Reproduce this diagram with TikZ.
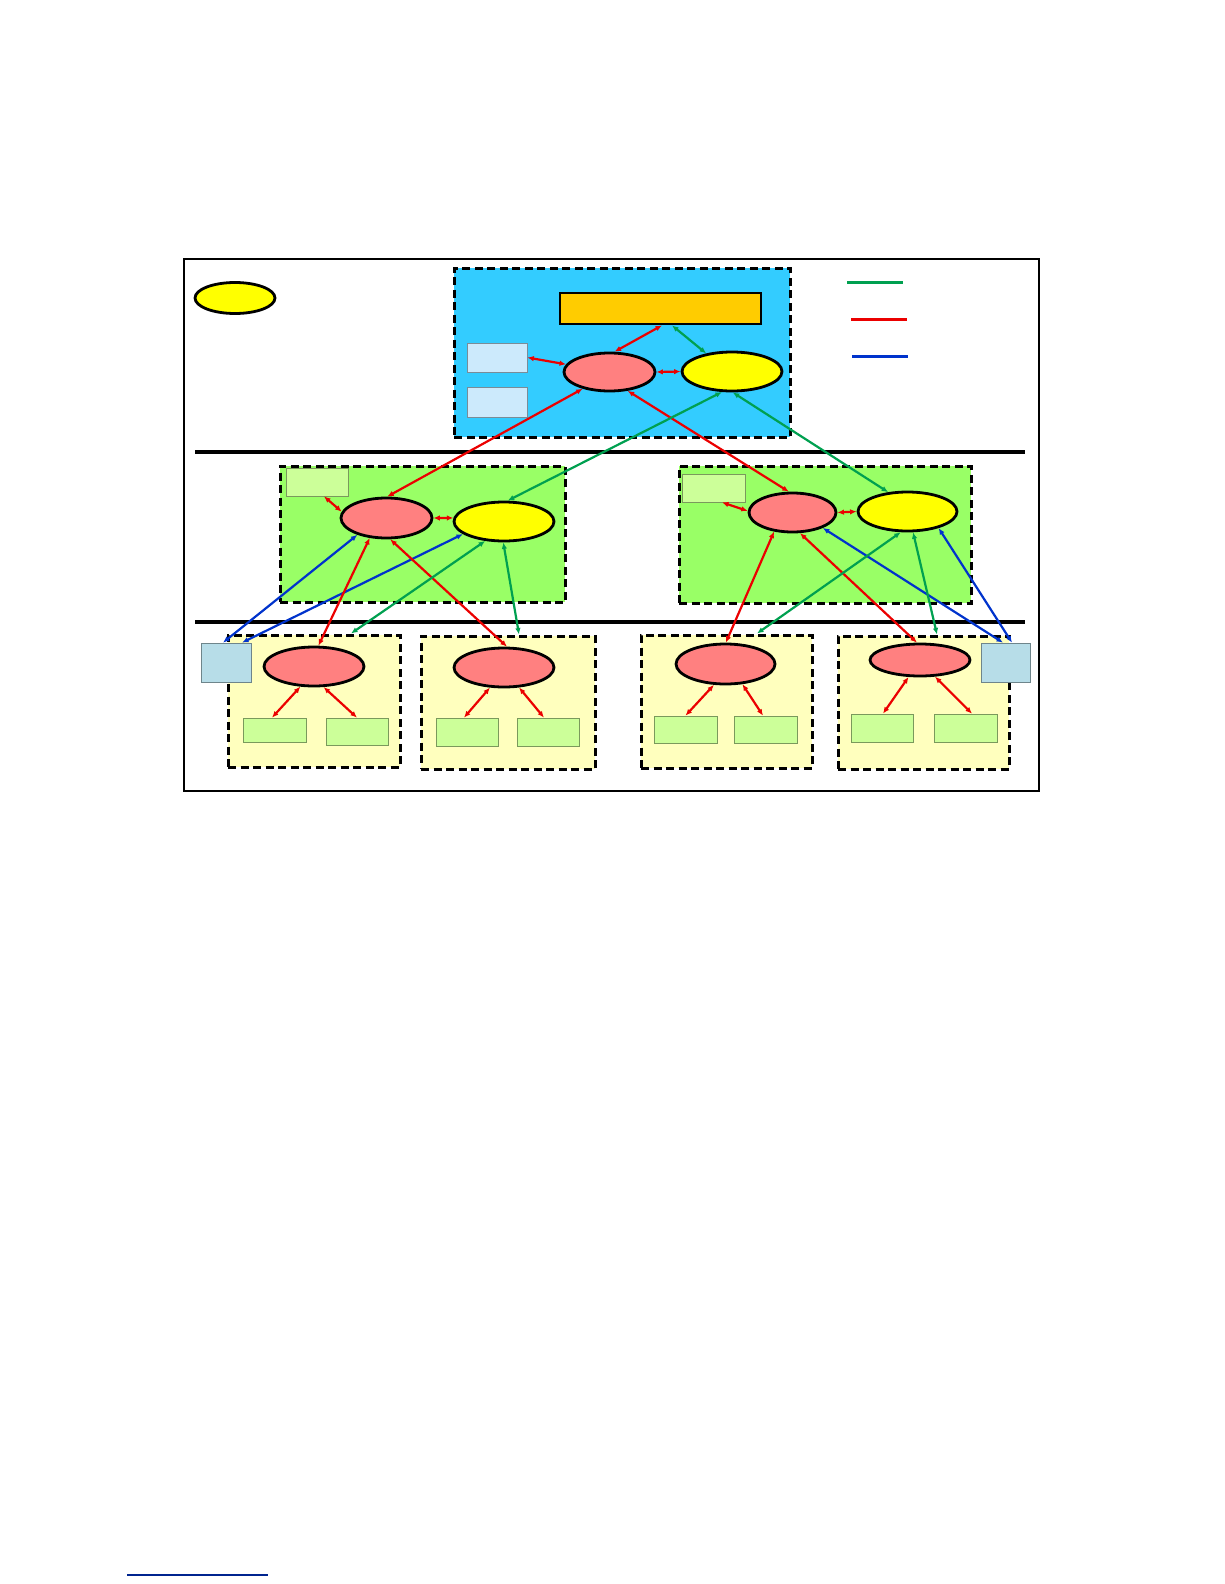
\documentclass[tikz,border=0pt]{standalone}
\usepackage{tikz}
\usetikzlibrary{arrows.meta}
\usetikzlibrary{shapes.geometric}

\definecolor{cloudblue}{RGB}{51,204,255}
\definecolor{dborange}{RGB}{255,204,0}
\definecolor{mgrpink}{RGB}{255,128,128}
\definecolor{ctlyellow}{RGB}{255,255,0}
\definecolor{zonegreen}{RGB}{153,255,102}
\definecolor{resgreen}{RGB}{204,255,153}
\definecolor{storeblue}{RGB}{204,234,252}
\definecolor{edgeblue}{RGB}{183,221,232}
\definecolor{siteyellow}{RGB}{255,255,190}
\definecolor{linkred}{RGB}{235,0,0}
\definecolor{linkgreen}{RGB}{0,160,80}
\definecolor{linkblue}{RGB}{0,51,204}

\tikzstyle{layout}=[x=1pt, y=-1pt, >={Latex[length=6.5pt, width=5.5pt]}]
\tikzstyle{zone}=[rectangle, inner sep=0pt, draw, line width=3pt, dash pattern=on 8pt off 4.5pt]
\tikzstyle{site}=[zone, fill=siteyellow]
\tikzstyle{mgr}=[ellipse, inner sep=0pt, draw, line width=2.8pt, fill=mgrpink]
\tikzstyle{ctl}=[ellipse, inner sep=0pt, draw, line width=2.8pt, fill=ctlyellow]
\tikzstyle{db}=[rectangle, inner sep=0pt, draw, line width=2.8pt, fill=dborange]
\tikzstyle{res}=[rectangle, inner sep=0pt, draw=resgreen!60!black, line width=0.7pt, fill=resgreen]
\tikzstyle{store}=[rectangle, inner sep=0pt, draw=storeblue!60!black, line width=0.7pt, fill=storeblue]
\tikzstyle{edgebox}=[rectangle, inner sep=0pt, draw=edgeblue!60!black, line width=0.7pt, fill=edgeblue]
\tikzstyle{rlink}=[<->, line width=2.2pt, draw=linkred]
\tikzstyle{glink}=[<->, line width=2.2pt, draw=linkgreen]
\tikzstyle{blink}=[<->, line width=2.2pt, draw=linkblue]
\tikzstyle{key}=[line width=3pt]
\tikzstyle{sep}=[line width=3.5pt]
\newcommand{\sepXa}{195}
\newcommand{\sepXb}{1025}

\begin{document}
\begin{tikzpicture}[layout]
	\useasboundingbox (0,0) rectangle (1224,1584);
	\draw[line width=1.2pt] (184,259) rectangle (1039,791);
	
	%legend
	\draw (235,298) node[ctl, minimum width=80pt, minimum height=31pt] (keyctl) {};
	\draw[key, linkgreen] (847,282) -- (903,282);
	\draw[key, linkred] (851,319) -- (907,319);
	\draw[key, linkblue] (852,356) -- (908,356);
	
	\draw[sep] (\sepXa,452) -- (\sepXb,452);
	\draw[sep] (\sepXa,622) -- (\sepXb,622);
	
	%top level
	\draw (622,352.5) node[zone, fill=cloudblue, minimum width=336pt, minimum height=169pt] (cloud) {};
	\draw (660.5,308.5) node[db, minimum width=201pt, minimum height=31pt] (db) {};
	\draw (497,357.5) node[store, minimum width=60pt, minimum height=29pt] (stA) {};
	\draw (497,402) node[store, minimum width=60pt, minimum height=30pt] (stB) {};
	\draw (609.5,372) node[mgr, minimum width=91pt, minimum height=38pt] (mT) {};
	\draw (732,371.5) node[ctl, minimum width=100pt, minimum height=39pt] (cT) {};
	
	%middle level
	\draw (422.5,534) node[zone, fill=zonegreen, minimum width=285pt, minimum height=136pt] (zL) {};
	\draw (317,482) node[res, minimum width=62pt, minimum height=28pt] (rL) {};
	\draw (386.5,518) node[mgr, minimum width=91pt, minimum height=40pt] (mL) {};
	\draw (504,521.5) node[ctl, minimum width=100pt, minimum height=39pt] (cL) {};
	
	\draw (825,534.5) node[zone, fill=zonegreen, minimum width=292pt, minimum height=137pt] (zR) {};
	\draw (713.5,488) node[res, minimum width=63pt, minimum height=28pt] (rR) {};
	\draw (792.5,512.5) node[mgr, minimum width=87pt, minimum height=39pt] (mR) {};
	\draw (907.5,511.5) node[ctl, minimum width=99pt, minimum height=39pt] (cR) {};
	
	%bottom level
	\draw (314,701) node[site, minimum width=172pt, minimum height=132pt] (s1) {};
	\draw (314,666.5) node[mgr, minimum width=100pt, minimum height=39pt] (mB1) {};
	\draw (274.5,730) node[res, minimum width=63pt, minimum height=24pt] (g1a) {};
	\draw (357,731.5) node[res, minimum width=62pt, minimum height=27pt] (g1b) {};
	
	\draw (508,702.5) node[site, minimum width=174pt, minimum height=133pt] (s2) {};
	\draw (504,667.5) node[mgr, minimum width=100pt, minimum height=39pt] (mB2) {};
	\draw (467,732) node[res, minimum width=62pt, minimum height=28pt] (g2a) {};
	\draw (548,732) node[res, minimum width=62pt, minimum height=28pt] (g2b) {};
	
	\draw (726.5,701.5) node[site, minimum width=171pt, minimum height=133pt] (s3) {};
	\draw (725.5,664) node[mgr, minimum width=99pt, minimum height=40pt] (mB3) {};
	\draw (685.5,729.5) node[res, minimum width=63pt, minimum height=27pt] (g3a) {};
	\draw (765.5,729.5) node[res, minimum width=63pt, minimum height=27pt] (g3b) {};
	
	\draw (923.5,702.5) node[site, minimum width=171pt, minimum height=133pt] (s4) {};
	\draw (920,660) node[mgr, minimum width=100pt, minimum height=32pt] (mB4) {};
	\draw (882,728) node[res, minimum width=62pt, minimum height=28pt] (g4a) {};
	\draw (965.5,728) node[res, minimum width=63pt, minimum height=28pt] (g4b) {};
	
	\draw (226,662.5) node[edgebox, minimum width=50pt, minimum height=39pt] (lbL) {};
	\draw (1005.5,662.5) node[edgebox, minimum width=49pt, minimum height=39pt] (lbR) {};
	
	%links inside the top level
	\draw[rlink] ([xshift=1.5pt]db.south) -- (mT.76);
	\draw[glink] ([xshift=11.5pt]db.south) -- (cT.145);
	\draw[rlink] (mT.east) -- (cT.west);
	\draw[rlink] (stA.east) -- (mT.170);
	
	%top to middle
	\draw[rlink] (mT.212) -- (mL.88);
	\draw[rlink] (mT.314) -- (mR.100);
	\draw[glink] (cT.244) -- (cL.80);
	\draw[glink] (cT.272) -- (cR.135);
	
	%middle left
	\draw[rlink] ([xshift=7pt]rL.south) -- (mL.172);
	\draw[rlink] (mL.east) -- (cL.176);
	\draw[blink] (mL.210) -- ([xshift=-3pt]lbL.north);
	\draw[blink] (cL.197) -- ([xshift=16pt]lbL.north);
	\draw[rlink] (mL.230) -- (mB1.78);
	\draw[rlink] (mL.280) -- (mB2.82);
	\draw[glink] (cL.226) -- ([xshift=37pt]s1.north);
	\draw[glink] (cL.268) -- ([xshift=11pt]s2.north);
	
	%middle right
	\draw[rlink] ([xshift=8.5pt]rR.south) -- (mR.178);
	\draw[rlink] (mR.east) -- (cR.west);
	\draw[rlink] (mR.226) -- (mB3.89);
	\draw[rlink] (mR.290) -- (mB4.100);
	\draw[blink] (mR.333) -- ([xshift=-2.5pt]lbR.north);
	\draw[glink] (cR.252) -- ([xshift=30.5pt]s3.north);
	\draw[glink] (cR.285) -- ([xshift=13.5pt]s4.north);
	\draw[blink] (cR.332) -- ([xshift=6.5pt]lbR.north);
	
	%bottom level
	\draw[rlink] (mB1.236) -- ([xshift=-2.5pt]g1a.north);
	\draw[rlink] (mB1.295) -- (g1b.north);
	\draw[rlink] (mB2.235) -- ([xshift=-3pt]g2a.north);
	\draw[rlink] (mB2.307) -- ([xshift=-4pt]g2b.north);
	\draw[rlink] (mB3.241) -- (g3a.north);
	\draw[rlink] (mB3.310) -- ([xshift=-2.5pt]g3b.north);
	\draw[rlink] (mB4.236) -- ([xshift=1pt]g4a.north);
	\draw[rlink] (mB4.312) -- ([xshift=6.5pt]g4b.north);
	
	\draw[line width=1.2pt, linkblue!70!black] (127,1575) -- (268,1575);
\end{tikzpicture}
\end{document}
